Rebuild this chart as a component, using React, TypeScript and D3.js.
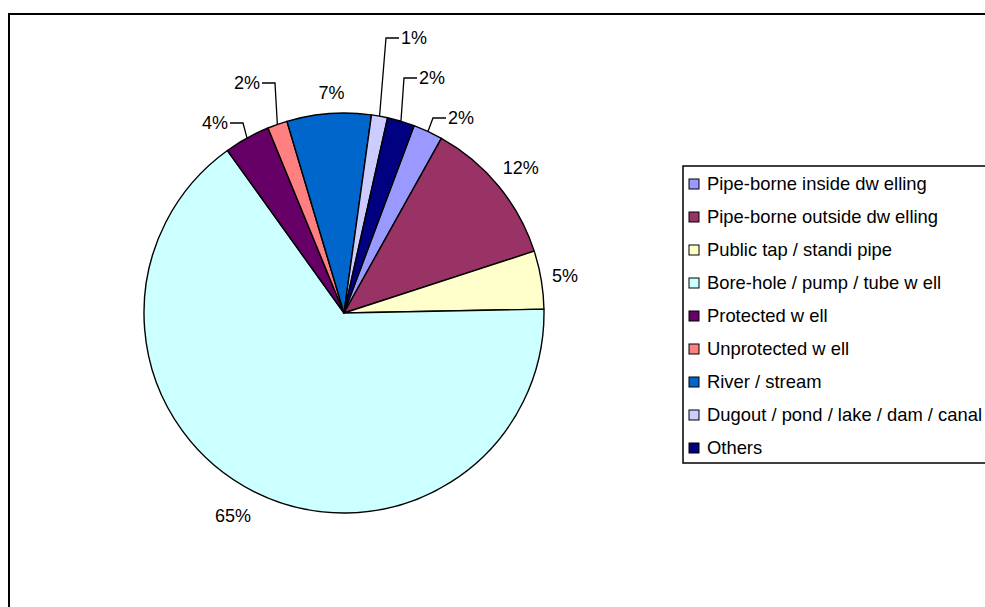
import React from "react";
import * as d3 from "d3";

const categories = [
  "Pipe-borne inside dw elling",
  "Pipe-borne outside dw elling",
  "Public tap / standi pipe",
  "Bore-hole / pump / tube w ell",
  "Protected w ell",
  "Unprotected w ell",
  "River / stream",
  "Dugout / pond / lake / dam / canal",
  "Others",
];
const values = [2.4, 11.9, 4.7, 65.4, 3.7, 1.6, 6.8, 1.3, 2.2];
const colors = [
  "#9999FF",
  "#993366",
  "#FFFFCC",
  "#CCFFFF",
  "#660066",
  "#FF8080",
  "#0066CC",
  "#CCCCFF",
  "#000080",
];

// layout of labels that were dragged away with leader lines (offsets from pie centre)
const leaderLayout: Record<number, { ex: number; ey: number; side: number }> = {
  0: { ex: 89, ey: -195, side: 1 },
  4: { ex: -101, ey: -190, side: -1 },
  5: { ex: -69, ey: -230, side: -1 },
  7: { ex: 42, ey: -275, side: 1 },
  8: { ex: 60, ey: -235, side: 1 },
};
// small manual nudges for radially placed labels
const labelNudge: Record<number, { dx: number; dy: number }> = {
  3: { dx: -10, dy: 1 },
  6: { dx: 4, dy: -2 },
};

const W = 985;
const H = 607;
const CX = 344;
const CY = 313;
const R = 200;
const START_DEG = 20.5;
const FONT = "'Liberation Sans', Arial, sans-serif";
const FS = 18;
const LFS = 18.4;

export default function App() {
  const total = d3.sum(values);
  const start = (START_DEG * Math.PI) / 180;
  const pie = d3
    .pie<number>()
    .sort(null)
    .value((d) => d)
    .startAngle(start)
    .endAngle(start + 2 * Math.PI);
  const arcs = pie(values);
  const arc = d3.arc<d3.PieArcDatum<number>>().innerRadius(0).outerRadius(R);
  const pct = (v: number) => `${Math.round((v / total) * 100)}%`;

  const textWidth = (s: string) =>
    s.split("").reduce((a, c) => a + (c === "%" ? 0.889 : 0.556), 0) * FS;

  const legendY0 = 184;
  const legendStep = 33;

  return (
    <svg
      width={W}
      height={H}
      style={{ position: "absolute", left: 0, top: 0, background: "#fff" }}
      fontFamily={FONT}
    >
      <rect x={0} y={0} width={W} height={H} fill="#fff" />
      <path d={`M9,${H} V14 H${W}`} fill="none" stroke="#000" strokeWidth={2} />

      <g transform={`translate(${CX},${CY})`}>
        {arcs.map((a, i) => (
          <path
            key={i}
            d={arc(a) || ""}
            fill={colors[i]}
            stroke="#000"
            strokeWidth={1.4}
            strokeLinejoin="round"
          />
        ))}
        {arcs.map((a, i) => {
          const mid = (a.startAngle + a.endAngle) / 2;
          const sx = Math.sin(mid);
          const sy = -Math.cos(mid);
          const label = pct(a.data);
          const lay = leaderLayout[i];
          if (lay) {
            const px = R * sx;
            const py = R * sy;
            const hx = lay.ex + lay.side * 13;
            return (
              <g key={i}>
                <path
                  d={`M${px},${py} L${lay.ex},${lay.ey} L${hx},${lay.ey}`}
                  fill="none"
                  stroke="#000"
                  strokeWidth={1.3}
                />
                <text
                  x={hx + lay.side * 2}
                  y={lay.ey}
                  dy="0.35em"
                  fontSize={FS}
                  textAnchor={lay.side > 0 ? "start" : "end"}
                  fill="#000"
                >
                  {label}
                </text>
              </g>
            );
          }
          const hw = textWidth(label) / 2;
          const hh = 8;
          const r = R + 10 + hw * Math.abs(sx) + hh * Math.abs(sy);
          const n = labelNudge[i] || { dx: 0, dy: 0 };
          return (
            <text
              key={i}
              x={r * sx + n.dx}
              y={r * sy + n.dy}
              dy="0.35em"
              fontSize={FS}
              textAnchor="middle"
              fill="#000"
            >
              {label}
            </text>
          );
        })}
      </g>

      <g>
        <rect x={683} y={166} width={340} height={297} fill="#fff" stroke="#000" strokeWidth={1.5} />
        {categories.map((c, i) => {
          const y = legendY0 + i * legendStep;
          return (
            <g key={c}>
              <rect x={689} y={y - 5} width={10} height={10} fill={colors[i]} stroke="#000" strokeWidth={1} />
              <text x={707} y={y} dy="0.35em" fontSize={LFS} fill="#000">
                {c}
              </text>
            </g>
          );
        })}
      </g>
    </svg>
  );
}
